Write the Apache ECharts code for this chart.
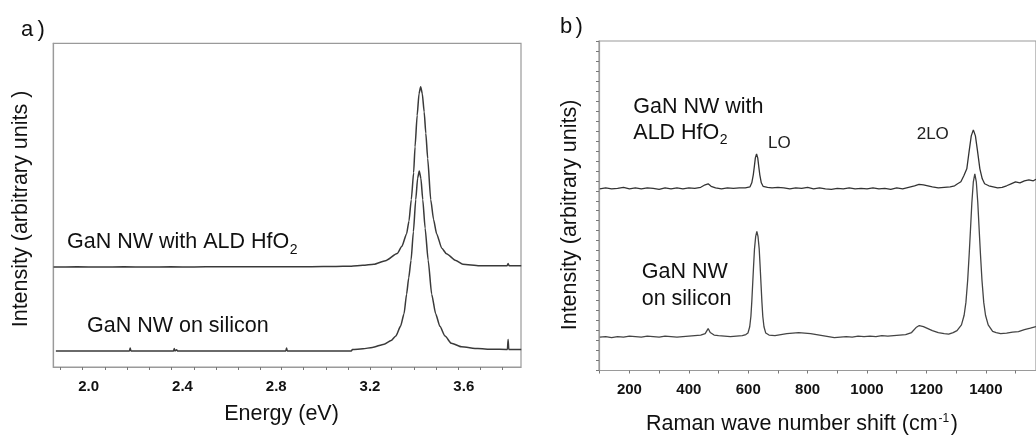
<!DOCTYPE html>
<html><head><meta charset="utf-8">
<script src="https://cdn.jsdelivr.net/npm/echarts@6/dist/echarts.min.js"></script>
<style>html,body{margin:0;padding:0;background:#fff}#c{width:1036px;height:436px}</style>
</head><body><div id="c"></div>
<script>
const FONT = '"Liberation Sans", Arial, Helvetica, sans-serif';

// ---- Panel a: PL spectra (Energy eV, arbitrary intensity) ----
const aTickValues = [1.880,1.974,2.069,2.164,2.258,2.354,2.449,2.543,2.638,2.730,2.823,2.915,3.012,3.107,3.200,3.292,3.387,3.481,3.576,3.672,3.766];
const aTickLabels = [2.0, 2.4, 2.8, 3.2, 3.6];
const aHfO2 = [[1.85,30.9],[1.95,30.95],[2.05,30.9],[2.15,30.95],[2.25,30.9],[2.35,30.95],[2.45,30.9],[2.55,31.0],[2.65,30.95],[2.75,31.0],[2.85,31.0],[2.95,31.0],[3.05,31.05],[3.12,31.15],[3.17,31.4],[3.216,31.75],[3.266,32.86],[3.316,35.08],[3.336,37.29],[3.356,41.17],[3.366,45.05],[3.376,51.7],[3.386,60.0],[3.392,68.0],[3.401,77.7],[3.409,84.4],[3.416,86.6],[3.423,84.4],[3.431,78.8],[3.438,72.2],[3.446,64.4],[3.459,51.7],[3.471,45.6],[3.484,41.2],[3.506,36.7],[3.526,35.0],[3.566,32.9],[3.596,31.75],[3.666,31.3],[3.75,31.3],[3.785,31.3],[3.789,32.0],[3.793,31.3],[3.845,31.3]];
const aSilicon = [[1.86,4.95],[1.95,4.95],[2.05,4.95],[2.12,4.95],[2.174,4.95],[2.177,5.9],[2.180,4.95],[2.30,4.95],[2.362,4.95],[2.365,5.7],[2.368,4.95],[2.375,5.3],[2.38,4.95],[2.5,4.95],[2.6,4.95],[2.7,4.95],[2.841,4.95],[2.844,5.9],[2.847,4.95],[2.95,4.95],[3.05,4.95],[3.12,4.95],[3.125,5.4],[3.17,5.6],[3.21,6.06],[3.26,7.05],[3.29,8.16],[3.31,9.54],[3.33,12.57],[3.345,16.43],[3.356,22.5],[3.365,27.5],[3.375,33.0],[3.385,41.8],[3.395,51.7],[3.403,58.3],[3.41,60.55],[3.417,58.3],[3.425,51.7],[3.435,42.9],[3.448,33.0],[3.463,22.5],[3.48,16.43],[3.498,12.57],[3.52,9.54],[3.547,7.33],[3.59,6.23],[3.66,5.68],[3.72,5.5],[3.786,5.4],[3.789,8.5],[3.792,5.4],[3.845,5.4]];

// ---- Panel b: Raman spectra (cm-1, arbitrary intensity) ----
const bTickValues = [100,200,300,400,500,600,700,800,900,1000,1100,1200,1300,1400,1500];
const bTickLabels = [200,400,600,800,1000,1200,1400];
const bHfO2 = [[100,18.2],[120,18.3],[140,18.2],[160,18.25],[180,18.35],[200,18.2],[220,18.3],[240,18.2],[260,18.3],[280,18.25],[300,18.15],[320,18.3],[340,18.2],[360,18.3],[380,18.2],[400,18.3],[420,18.25],[440,18.35],[455,18.6],[465,18.7],[475,18.45],[490,18.3],[510,18.2],[530,18.3],[550,18.25],[570,18.3],[590,18.3],[606,18.4],[612,18.8],[617,19.6],[620,20.3],[624,21.3],[628,21.7],[632,21.3],[636,20.3],[639,19.6],[644,18.8],[650,18.45],[665,18.35],[680,18.3],[700,18.35],[720,18.3],[740,18.2],[760,18.3],[780,18.25],[800,18.35],[820,18.2],[840,18.3],[860,18.2],[880,18.15],[900,18.25],[920,18.2],[940,18.3],[960,18.2],[980,18.25],[1000,18.2],[1020,18.3],[1040,18.2],[1060,18.25],[1080,18.15],[1100,18.3],[1120,18.2],[1140,18.35],[1160,18.5],[1175,18.65],[1190,18.6],[1205,18.5],[1220,18.4],[1240,18.3],[1260,18.35],[1280,18.4],[1295,18.5],[1305,18.7],[1316,18.9],[1326,19.5],[1336,20.2],[1344,22.0],[1351,23.5],[1358,24.1],[1365,23.5],[1372,22.0],[1380,20.2],[1388,19.2],[1396,18.7],[1410,18.5],[1425,18.4],[1440,18.3],[1455,18.35],[1470,18.5],[1485,18.7],[1500,18.9],[1515,18.8],[1530,19.0],[1545,19.1],[1560,19.0],[1569,19.15]];
const bSilicon = [[100,3.35],[120,3.4],[140,3.3],[160,3.4],[180,3.35],[200,3.45],[220,3.4],[240,3.35],[260,3.45],[280,3.4],[300,3.35],[320,3.45],[340,3.4],[360,3.35],[380,3.4],[400,3.45],[420,3.5],[440,3.55],[455,3.7],[465,4.2],[472,3.8],[485,3.55],[500,3.5],[520,3.45],[540,3.4],[560,3.45],[580,3.5],[592,3.6],[599,3.75],[605,4.38],[609,5.43],[612,6.9],[615,8.68],[618,10.47],[621,12.15],[625,13.4],[629,13.93],[633,13.4],[637,12.15],[640,10.47],[643,8.68],[646,6.9],[649,5.43],[653,4.38],[659,3.75],[670,3.55],[690,3.5],[710,3.6],[730,3.7],[750,3.75],[770,3.8],[790,3.75],[810,3.7],[830,3.6],[850,3.5],[870,3.4],[890,3.3],[910,3.35],[930,3.4],[950,3.35],[970,3.45],[990,3.4],[1010,3.45],[1030,3.4],[1050,3.5],[1070,3.45],[1090,3.5],[1110,3.55],[1130,3.6],[1150,3.8],[1165,4.3],[1176,4.5],[1190,4.4],[1205,4.2],[1220,4.0],[1240,3.8],[1260,3.7],[1275,3.65],[1290,3.8],[1303,4.0],[1318,4.57],[1327,5.53],[1333,6.82],[1339,9.07],[1344,11.65],[1348,13.9],[1353,16.8],[1358,18.9],[1363,19.7],[1368,18.9],[1373,16.8],[1378,13.9],[1382,11.65],[1387,9.07],[1393,6.82],[1399,5.53],[1408,4.57],[1423,3.92],[1435,3.8],[1450,3.7],[1470,3.75],[1490,3.85],[1510,3.9],[1530,4.1],[1550,4.25],[1569,4.4]];

const chart = echarts.init(document.getElementById('c'), null, {renderer: 'canvas'});
const mctx = document.createElement('canvas').getContext('2d');
function tw(s, size, weight) { mctx.font = (weight || 'normal') + ' ' + size + 'px ' + FONT; return mctx.measureText(s).width; }
function T(text, x, y, size, o) {
  o = o || {};
  const al = o.align || 'left';
  return {type: 'text', x: x, y: y, rotation: o.rot || 0, z: 100, silent: true,
    style: {text: text, fill: o.color || '#111', font: (o.weight || 'normal') + ' ' + size + 'px ' + FONT,
      textAlign: al, textVerticalAlign: 'middle', align: al, verticalAlign: 'middle'}};
}

const FS = 21.5;
const axisColor = '#9a9a9a';
const tickColor = '#777';
const lblStyle = {color: '#111', fontWeight: 'bold', fontSize: 15, fontFamily: FONT, margin: 12};

const mainA = 'GaN NW with ALD HfO';
const mainB2 = 'ALD HfO';
const xnameB = 'Raman wave number shift (cm';
const supX = 646 + tw(xnameB, FS) + 1;
const parX = supX + tw('-1', 12) + 1.5;

const graphics = [
  T('a', 21, 30.3, 22), T(')', 37.5, 30.3, 22),
  T('b', 560, 27.3, 22), T(')', 575.5, 27.3, 22),
  T('Intensity (arbitrary units )', 21, 209, FS, {align: 'center', rot: Math.PI / 2}),
  T('Intensity (arbitrary units)', 570, 215, FS, {align: 'center', rot: Math.PI / 2}),
  T(mainA, 67, 242.5, FS), T('2', 67 + tw(mainA, FS) + 0.5, 250.3, 14),
  T('GaN NW on silicon', 87, 325.8, FS),
  T('Energy (eV)', 281.5, 414.2, FS, {align: 'center'}),
  T('GaN NW with', 633.3, 107, FS), T(mainB2, 633.3, 132.6, FS), T('2', 633.3 + tw(mainB2, FS) + 0.5, 140.2, 14),
  T('LO', 768, 143, 17, {color: '#222'}),
  T('2LO', 916.7, 134, 17, {color: '#222'}),
  T('GaN NW', 641.7, 272.5, FS), T('on silicon', 641.7, 299.2, FS),
  T(xnameB, 646, 424.2, FS), T('-1', supX, 419, 12), T(')', parX, 424.2, FS)
];

const option = {
  animation: false,
  backgroundColor: '#fff',
  grid: [
    {left: 53.3, top: 43.3, width: 467.7, height: 323.7, show: true, borderColor: axisColor, borderWidth: 1.2, backgroundColor: 'transparent'},
    {left: 599, top: 41, width: 438, height: 329.5, show: true, borderColor: axisColor, borderWidth: 1.2, backgroundColor: 'transparent'}
  ],
  xAxis: [
    {gridIndex: 0, type: 'value', min: 1.849, max: 3.844,
      axisLine: {show: true, onZero: false, lineStyle: {color: axisColor, width: 1.2}},
      axisTick: {show: true, length: 3, customValues: aTickValues, lineStyle: {color: tickColor}},
      axisLabel: Object.assign({show: true, customValues: aTickLabels, formatter: v => Number(v).toFixed(1)}, lblStyle),
      splitLine: {show: false}},
    {gridIndex: 1, type: 'value', min: 97.5, max: 1569,
      axisLine: {show: true, onZero: false, lineStyle: {color: axisColor, width: 1.2}},
      axisTick: {show: true, length: 3, customValues: bTickValues, lineStyle: {color: tickColor}},
      axisLabel: Object.assign({show: true, customValues: bTickLabels, formatter: v => String(Math.round(v))}, lblStyle),
      splitLine: {show: false}}
  ],
  yAxis: [
    {gridIndex: 0, type: 'value', min: 0, max: 100,
      axisLine: {show: true, onZero: false, lineStyle: {color: axisColor, width: 1.2}},
      axisTick: {show: false}, axisLabel: {show: false}, splitLine: {show: false}},
    {gridIndex: 1, type: 'value', min: 0, max: 33, interval: 1,
      axisLine: {show: true, onZero: false, lineStyle: {color: axisColor, width: 1.2}},
      axisTick: {show: true, length: 3, lineStyle: {color: tickColor}}, axisLabel: {show: false}, splitLine: {show: false}}
  ],
  series: [
    {name: 'GaN NW with ALD HfO2 (PL)', type: 'line', xAxisIndex: 0, yAxisIndex: 0, data: aHfO2, showSymbol: false, silent: true, smooth: 0.2, smoothMonotone: 'x', lineStyle: {color: '#3a3a3a', width: 1.5}},
    {name: 'GaN NW on silicon (PL)', type: 'line', xAxisIndex: 0, yAxisIndex: 0, data: aSilicon, showSymbol: false, silent: true, smooth: 0.2, smoothMonotone: 'x', lineStyle: {color: '#3a3a3a', width: 1.5}},
    {name: 'GaN NW with ALD HfO2 (Raman)', type: 'line', xAxisIndex: 1, yAxisIndex: 1, data: bHfO2, showSymbol: false, silent: true, lineStyle: {color: '#333', width: 1.3}},
    {name: 'GaN NW on silicon (Raman)', type: 'line', xAxisIndex: 1, yAxisIndex: 1, data: bSilicon, showSymbol: false, silent: true, lineStyle: {color: '#444', width: 1.3}}
  ],
  graphic: graphics
};
chart.setOption(option);
</script>
</body></html>
